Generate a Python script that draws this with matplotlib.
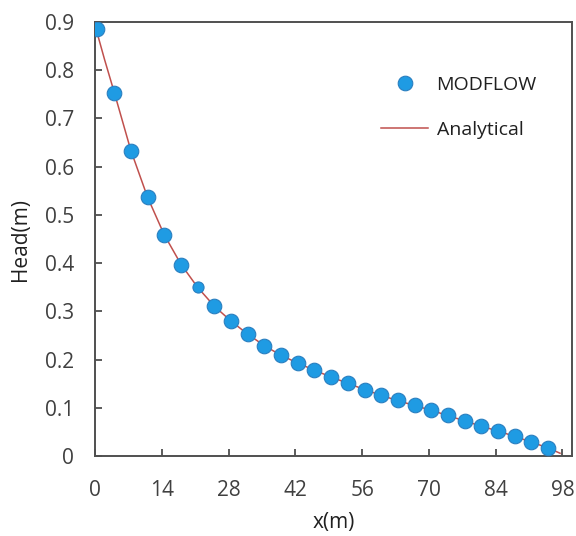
import matplotlib
matplotlib.use("Agg")
import matplotlib.pyplot as plt
from matplotlib.lines import Line2D

# MODFLOW results
x_modflow = [0.5, 4, 7.5, 11, 14.5, 18, 21.5, 25, 28.5, 32, 35.5, 39, 42.5, 46,
             49.5, 53, 56.5, 60, 63.5, 67, 70.5, 74, 77.5, 81, 84.5, 88, 91.5, 95]
h_modflow = [0.885, 0.753, 0.633, 0.537, 0.458, 0.397, 0.351, 0.311, 0.280, 0.253,
             0.228, 0.209, 0.194, 0.178, 0.164, 0.152, 0.138, 0.126, 0.116, 0.105,
             0.095, 0.085, 0.072, 0.062, 0.053, 0.041, 0.029, 0.017]
small_idx = 6  # this marker is drawn smaller in the original

# analytical solution
x_analytical = [0, 2, 4, 7.5, 11, 14.5, 18, 21.5, 25, 28.5, 32, 35.5, 39, 42.5, 46,
                49.5, 53, 56.5, 60, 63.5, 67, 70.5, 74, 77.5, 81, 84.5, 88, 91.5, 95, 97.5]
h_analytical = [0.893, 0.822, 0.755, 0.634, 0.537, 0.459, 0.398, 0.350, 0.311, 0.280,
                0.253, 0.229, 0.209, 0.193, 0.178, 0.164, 0.151, 0.138, 0.126, 0.115,
                0.105, 0.095, 0.084, 0.073, 0.062, 0.052, 0.041, 0.029, 0.017, 0.006]

x_ticks = [0, 14, 28, 42, 56, 70, 84, 98]
y_ticks = [0, 0.1, 0.2, 0.3, 0.4, 0.5, 0.6, 0.7, 0.8, 0.9]
y_ticklabels = ["0", "0.1", "0.2", "0.3", "0.4", "0.5", "0.6", "0.7", "0.8", "0.9"]

plt.rcParams["font.family"] = ["Open Sans", "DejaVu Sans"]

dot_face = "#1f9be3"
dot_edge = "#2a7fc0"
line_col = "#c0504d"
txt_col = "#404040"

fig = plt.figure(figsize=(5.76, 5.36), dpi=100)
ax = fig.add_axes([0.165, 0.149, 0.828, 0.810])

ax.plot(x_analytical, h_analytical, color=line_col, lw=1.1, zorder=2)
sizes = [8 if i == small_idx else 10.5 for i in range(len(x_modflow))]
for xx, hh, s in zip(x_modflow, h_modflow, sizes):
    ax.plot(xx, hh, "o", ms=s, mfc=dot_face, mec=dot_edge, mew=0.8, zorder=3)

ax.set_xlim(0, 100)
ax.set_ylim(0, 0.9)
ax.set_xticks(x_ticks)
ax.set_yticks(y_ticks)
ax.set_yticklabels(y_ticklabels)
ax.tick_params(direction="in", length=5, width=1.2, colors=txt_col,
               labelsize=15, labelcolor=txt_col)
ax.tick_params(axis="y", pad=15)
ax.tick_params(axis="x", pad=17)
for sp in ax.spines.values():
    sp.set_color("#505050")
    sp.set_linewidth(1.4)

ax.set_xlabel("x(m)", fontsize=15, color="#202020", labelpad=8)
ax.set_ylabel("Head(m)", fontsize=15, color="#202020", labelpad=10)

handles = [
    Line2D([], [], ls="none", marker="o", ms=10.5, mfc=dot_face, mec=dot_edge, mew=0.8),
    Line2D([], [], color=line_col, lw=1.1),
]
ax.legend(handles, ["MODFLOW", "Analytical"], loc="upper left",
          bbox_to_anchor=(0.6, 0.876), frameon=False, fontsize=14,
          handlelength=2.4, handletextpad=0.45, labelspacing=1.4,
          borderpad=0, borderaxespad=0, labelcolor="#202020")

fig.savefig("out.png", dpi=100)
